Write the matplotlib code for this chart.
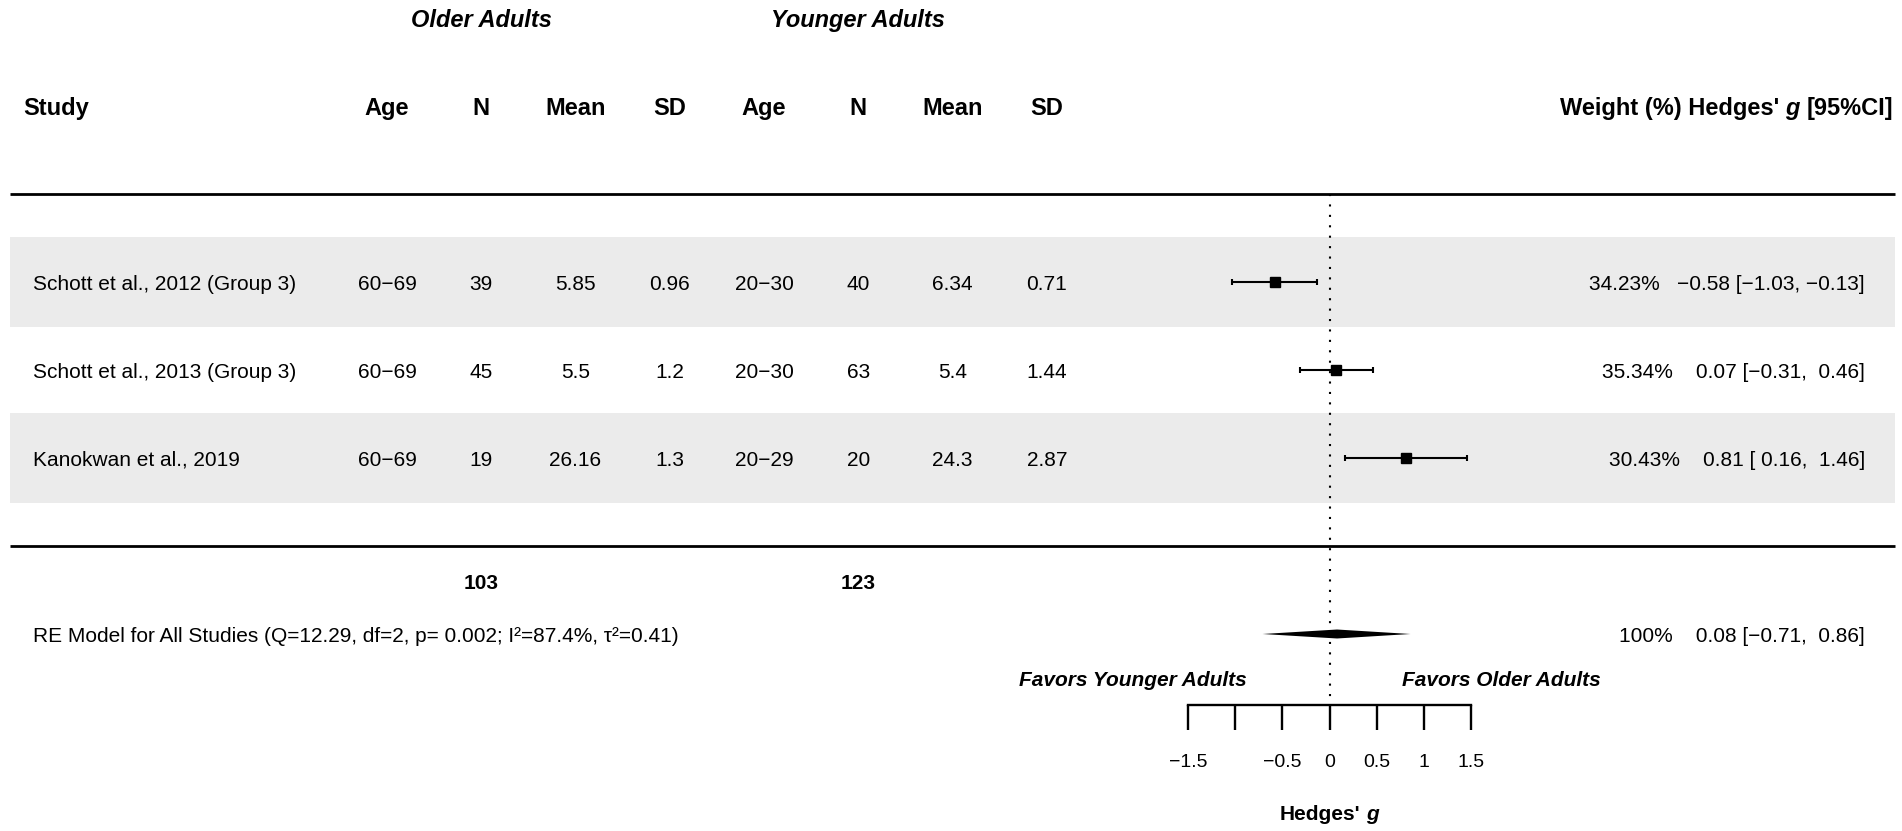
import matplotlib
matplotlib.use("Agg")
import matplotlib.pyplot as plt
import numpy as np

plt.rcParams['font.family'] = ['Liberation Sans', 'DejaVu Sans']

# ---------------- data ----------------
studies = ["Schott et al., 2012 (Group 3)", "Schott et al., 2013 (Group 3)", "Kanokwan et al., 2019"]
old_age = ["60\u221269", "60\u221269", "60\u221269"]
old_n = [39, 45, 19]
old_mean = ["5.85", "5.5", "26.16"]
old_sd = ["0.96", "1.2", "1.3"]
young_age = ["20\u221230", "20\u221230", "20\u221229"]
young_n = [40, 63, 20]
young_mean = ["6.34", "5.4", "24.3"]
young_sd = ["0.71", "1.44", "2.87"]
hedges_g = [-0.58, 0.07, 0.81]
ci_low = [-1.03, -0.31, 0.16]
ci_high = [-0.13, 0.46, 1.46]
weights = [34.23, 35.34, 30.43]
re_est, re_low, re_high = 0.08, -0.71, 0.86
re_label = "RE Model for All Studies (Q=12.29, df=2, p= 0.002; I\u00b2=87.4%, \u03c4\u00b2=0.41)"
col_headers = ["Age", "N", "Mean", "SD", "Age", "N", "Mean", "SD"]
x_ticks = [-1.5, -1.0, -0.5, 0.0, 0.5, 1.0, 1.5]
x_ticklabels = ["\u22121.5", "", "\u22120.5", "0", "0.5", "1", "1.5"]

# ---------------- layout ----------------
W, H = 1902, 831
fig = plt.figure(figsize=(W / 100, H / 100), dpi=100)
ax = fig.add_axes([0, 0, 1, 1])
x0_px, unit_px = 1329.5, 94.25
ax.set_xlim((0 - x0_px) / unit_px, (W - x0_px) / unit_px)
ax.set_ylim((546 - H) / 88.0, 546 / 88.0)
ax.axis('off')

BODY = 15
HEAD = 17
XL, XR = -14.0, 6.0
rows = [3, 2, 1]
col_x = [-10, -9, -8, -7, -6, -5, -4, -3]

renderer = fig.canvas.get_renderer()
ppu = ax.transData.transform((1, 0))[0] - ax.transData.transform((0, 0))[0]


def twidth(s, **kw):
    t = ax.text(0, 0, s, **kw)
    w = t.get_window_extent(renderer).width / ppu
    t.remove()
    return w


def draw_runs(x, y, runs, ha, size, weight='normal'):
    base = dict(fontsize=size, fontweight=weight, va='center_baseline', ha='left')
    sp = twidth("a a", **base) - twidth("aa", **base)
    items = []
    total = 0
    for s, kw in runs:
        if s == " ":
            items.append((None, sp))
            total += sp
        else:
            t = ax.text(0, y, s, **base, **kw)
            w = t.get_window_extent(renderer).width / ppu
            items.append((t, w))
            total += w
    start = x if ha == 'left' else (x - total if ha == 'right' else x - total / 2)
    for t, w in items:
        if t is not None:
            t.set_x(start)
        start += w


def fmt(v):
    return f"{v:5.2f}".replace("-", "\u2212")


# grey bands
for i, r in enumerate(rows):
    if i % 2 == 0:
        ax.fill_between([XL, XR], r - 0.51, r + 0.51, color='#EBEBEB', lw=0, zorder=0)

# horizontal rules
ax.plot([XL, XR], [4, 4], color='black', lw=2.0, solid_capstyle='butt', zorder=2)
ax.plot([XL, XR], [0, 0], color='black', lw=2.0, solid_capstyle='butt', zorder=2)

# reference line
ax.plot([0, 0], [4, -1.75], color='black', lw=1.5, linestyle=(0, (1, 4)), zorder=2)

# group headers
ax.text(-9, 6, "Older Adults", fontsize=HEAD, fontweight='bold', style='italic',
        ha='center', va='center_baseline')
ax.text(-5, 6, "Younger Adults", fontsize=HEAD, fontweight='bold', style='italic',
        ha='center', va='center_baseline')

# column headers
ax.text(-13.862, 5, "Study", fontsize=HEAD, fontweight='bold', ha='left', va='center_baseline')
for cx, h in zip(col_x, col_headers):
    ax.text(cx, 5, h, fontsize=HEAD, fontweight='bold', ha='center', va='center_baseline')
draw_runs(5.979, 5, [("Weight (%) Hedges'", {}), (" ", {}), ("g", {'style': 'italic'}),
                     (" ", {}), ("[95%CI]", {})], 'right', HEAD, 'bold')

# study rows
for i, r in enumerate(rows):
    ax.text(-13.756, r, studies[i], fontsize=BODY, ha='left', va='center_baseline')
    vals = [old_age[i], str(old_n[i]), old_mean[i], old_sd[i],
            young_age[i], str(young_n[i]), young_mean[i], young_sd[i]]
    for cx, v in zip(col_x, vals):
        ax.text(cx, r, v, fontsize=BODY, ha='center', va='center_baseline')
    ann = f"{weights[i]:.2f}%   {fmt(hedges_g[i])} [{fmt(ci_low[i])}, {fmt(ci_high[i])}]"
    ax.text(5.682, r, ann, fontsize=BODY, ha='right', va='center_baseline')

g = np.array(hedges_g)
ax.errorbar(g, rows, xerr=[g - np.array(ci_low), np.array(ci_high) - g], fmt='s',
            color='black', ms=6.8, capsize=2.2, elinewidth=1.5, capthick=1.5, zorder=3)

# totals
ax.text(-9, -0.4, str(sum(old_n)), fontsize=BODY, fontweight='bold', ha='center', va='center_baseline')
ax.text(-5, -0.4, str(sum(young_n)), fontsize=BODY, fontweight='bold', ha='center', va='center_baseline')

# RE model row
ax.text(-13.756, -1, re_label, fontsize=BODY, ha='left', va='center_baseline')
ax.fill([re_low, re_est, re_high, re_est], [-1, -1 + 0.051, -1, -1 - 0.051],
        color='black', lw=0, zorder=3)
ax.text(5.682, -1, f"100%   {fmt(re_est)} [{fmt(re_low)}, {fmt(re_high)}]",
        fontsize=BODY, ha='right', va='center_baseline')

# favours labels
ax.text(-0.878, -1.51, "Favors Younger Adults", fontsize=BODY, fontweight='bold',
        style='italic', ha='right', va='center_baseline')
ax.text(0.77, -1.51, "Favors Older Adults", fontsize=BODY, fontweight='bold',
        style='italic', ha='left', va='center_baseline')

# x axis
ax.plot([x_ticks[0], x_ticks[-1]], [-1.807, -1.807], color='black', lw=1.7,
        solid_capstyle='projecting', zorder=3)
ax.vlines(x_ticks, -2.09, -1.807, color='black', lw=1.7, zorder=3)
for tx, tl in zip(x_ticks, x_ticklabels):
    if tl:
        ax.text(tx, -2.443, tl, fontsize=14, ha='center', va='center_baseline')
draw_runs(0, -3.034, [("Hedges'", {}), (" ", {}), ("g", {'style': 'italic'})], 'center', 15, 'bold')

fig.savefig("out.png", dpi=100)
